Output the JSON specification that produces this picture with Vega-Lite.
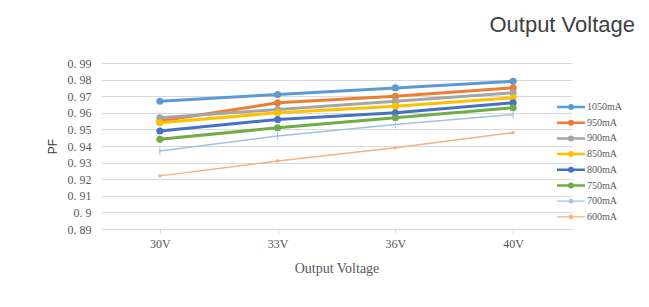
{
  "$schema": "https://vega.github.io/schema/vega-lite/v6.json",
  "width": 471,
  "height": 166,
  "autosize": {"type": "none"},
  "padding": {"left": 101, "top": 63, "right": 77, "bottom": 78},
  "background": "white",
  "title": {
    "text": "Output Voltage",
    "anchor": "end",
    "frame": "group",
    "dx": 63,
    "offset": 20,
    "font": "Liberation Sans",
    "fontSize": 22,
    "fontWeight": "normal",
    "color": "#404040"
  },
  "data": {
    "values": [
      {"v": "30V", "s": "1050mA", "pf": 0.967}, {"v": "33V", "s": "1050mA", "pf": 0.971}, {"v": "36V", "s": "1050mA", "pf": 0.975}, {"v": "40V", "s": "1050mA", "pf": 0.979},
      {"v": "30V", "s": "950mA", "pf": 0.955}, {"v": "33V", "s": "950mA", "pf": 0.966}, {"v": "36V", "s": "950mA", "pf": 0.970}, {"v": "40V", "s": "950mA", "pf": 0.975},
      {"v": "30V", "s": "900mA", "pf": 0.957}, {"v": "33V", "s": "900mA", "pf": 0.962}, {"v": "36V", "s": "900mA", "pf": 0.967}, {"v": "40V", "s": "900mA", "pf": 0.972},
      {"v": "30V", "s": "850mA", "pf": 0.954}, {"v": "33V", "s": "850mA", "pf": 0.960}, {"v": "36V", "s": "850mA", "pf": 0.964}, {"v": "40V", "s": "850mA", "pf": 0.969},
      {"v": "30V", "s": "800mA", "pf": 0.949}, {"v": "33V", "s": "800mA", "pf": 0.956}, {"v": "36V", "s": "800mA", "pf": 0.960}, {"v": "40V", "s": "800mA", "pf": 0.966},
      {"v": "30V", "s": "750mA", "pf": 0.944}, {"v": "33V", "s": "750mA", "pf": 0.951}, {"v": "36V", "s": "750mA", "pf": 0.957}, {"v": "40V", "s": "750mA", "pf": 0.963},
      {"v": "30V", "s": "700mA", "pf": 0.937}, {"v": "33V", "s": "700mA", "pf": 0.946}, {"v": "36V", "s": "700mA", "pf": 0.953}, {"v": "40V", "s": "700mA", "pf": 0.959},
      {"v": "30V", "s": "600mA", "pf": 0.922}, {"v": "33V", "s": "600mA", "pf": 0.931}, {"v": "36V", "s": "600mA", "pf": 0.939}, {"v": "40V", "s": "600mA", "pf": 0.948}
    ]
  },
  "encoding": {
    "x": {
      "field": "v", "type": "ordinal", "sort": ["30V", "33V", "36V", "40V"],
      "scale": {"paddingInner": 0, "paddingOuter": 0},
      "axis": {
        "title": "Output Voltage",
        "labelAngle": 0,
        "labelFont": "Liberation Serif", "labelFontSize": 12, "labelColor": "#595959",
        "labelPadding": 5,
        "titleFont": "Liberation Serif", "titleFontSize": 14, "titleFontWeight": "normal", "titleColor": "#595959",
        "titlePadding": 12,
        "domainColor": "#d9d9d9", "tickColor": "#d9d9d9", "tickSize": 4,
        "bandPosition": 0,
        "grid": false
      }
    },
    "y": {
      "field": "pf", "type": "quantitative",
      "scale": {"domain": [0.89, 0.99], "zero": false, "nice": false},
      "axis": {
        "title": "PF",
        "values": [0.89, 0.9, 0.91, 0.92, 0.93, 0.94, 0.95, 0.96, 0.97, 0.98, 0.99],
        "labelExpr": "replace(format(datum.value, '.2~f'), '.', '. ')",
        "labelFont": "Liberation Serif", "labelFontSize": 12, "labelColor": "#595959",
        "labelPadding": 10,
        "titleFont": "Liberation Sans", "titleFontSize": 12, "titleFontWeight": "normal", "titleColor": "#404040",
        "titlePadding": 8,
        "domain": false, "ticks": false,
        "gridColor": "#d9d9d9", "gridWidth": 1
      }
    },
    "color": {
      "field": "s", "type": "nominal", "title": null,
      "scale": {
        "domain": ["1050mA", "950mA", "900mA", "850mA", "800mA", "750mA", "700mA", "600mA"],
        "range": ["#5B9BD5", "#ED7D31", "#A5A5A5", "#FFC000", "#4472C4", "#70AD47", "#9DC3E6", "#F4B183"]
      },
      "legend": {
        "orient": "none",
        "legendX": 465,
        "legendY": 39,
        "padding": 0,
        "gridAlign": "all",
        "symbolType": "M-2,0L2,0M0.25,0A0.25,0.25,0,1,1,-0.25,0A0.25,0.25,0,1,1,0.25,0Z",
        "symbolSize": 196,
        "symbolStrokeWidth": 2.5,
        "labelOffset": 11,
        "rowPadding": 1.7,
        "labelFont": "Liberation Serif", "labelFontSize": 10, "labelColor": "#595959",
        "encode": {"symbols": {"update": {
          "fill": {"scale": "color", "field": "value"},
          "strokeWidth": {"signal": "datum.value == '700mA' || datum.value == '600mA' ? 1.2 : 2.5"}
        }}}
      }
    }
  },
  "layer": [
    {
      "transform": [{"filter": "datum.s != '700mA' && datum.s != '600mA'"}],
      "mark": {"type": "line", "strokeCap": "round", "strokeJoin": "round", "strokeWidth": 3}
    },
    {
      "transform": [{"filter": "datum.s == '700mA' || datum.s == '600mA'"}],
      "mark": {"type": "line", "strokeCap": "round", "strokeJoin": "round", "strokeWidth": 1.5}
    },
    {
      "transform": [{"filter": "datum.s != '700mA' && datum.s != '600mA'"}],
      "mark": {"type": "point", "shape": "circle", "filled": true, "size": 50, "opacity": 1}
    },
    {
      "transform": [{"filter": "datum.s == '700mA'"}],
      "mark": {"type": "point", "shape": "M0,-1L0,1", "filled": false, "size": 64, "strokeWidth": 1, "opacity": 1}
    },
    {
      "transform": [{"filter": "datum.s == '600mA'"}],
      "mark": {"type": "point", "shape": "square", "filled": true, "size": 9, "opacity": 1}
    }
  ],
  "config": {"view": {"stroke": null}}
}
